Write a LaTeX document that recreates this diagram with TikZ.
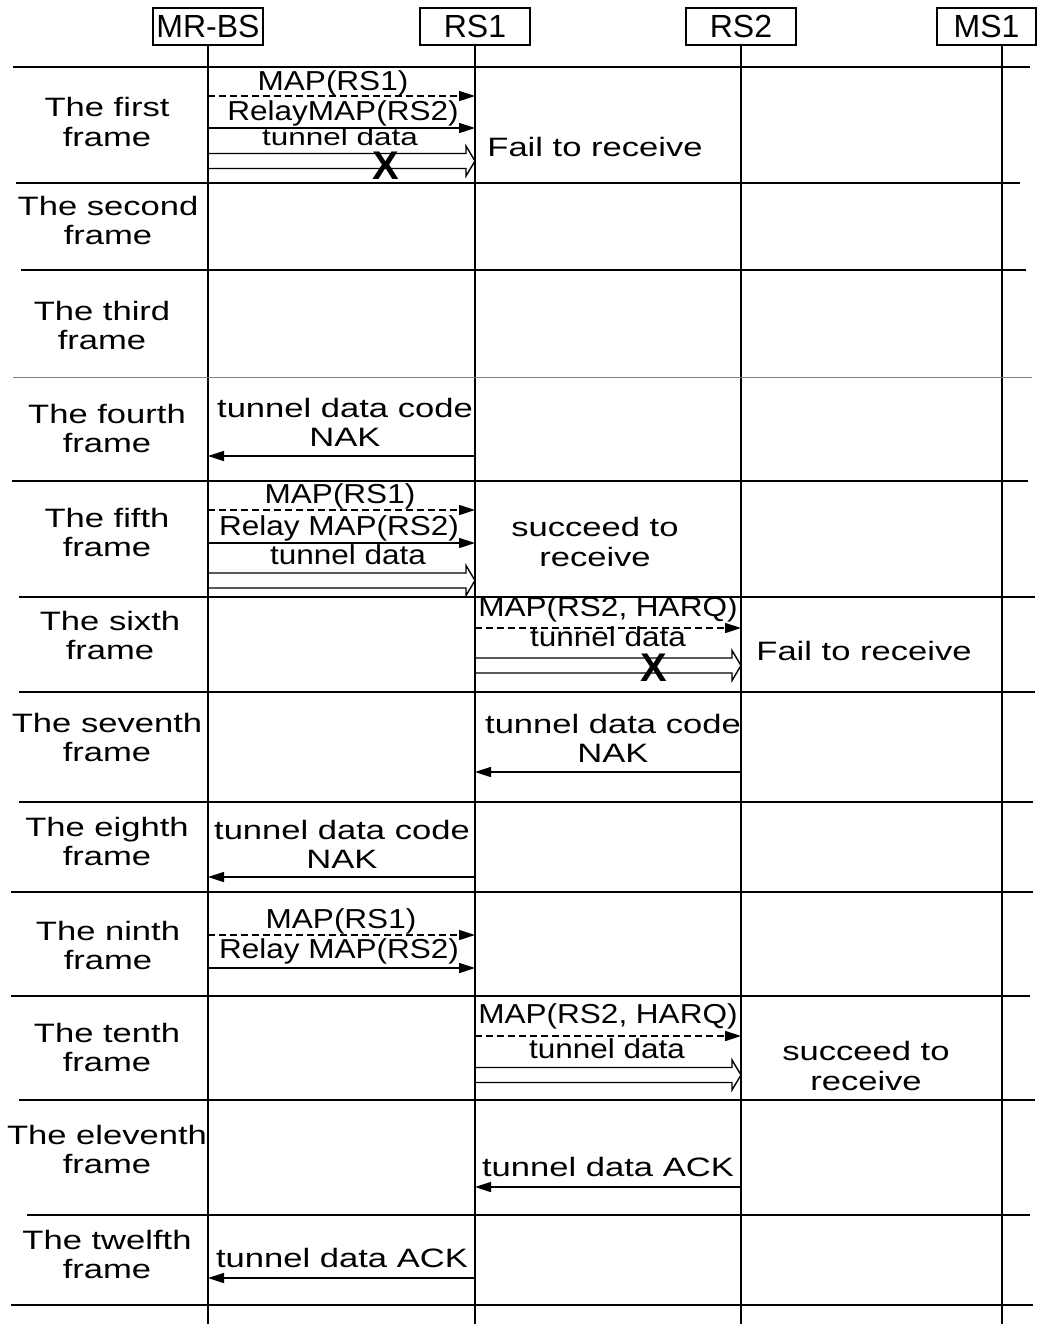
\documentclass[tikz,border=0pt]{standalone}
\usepackage{fontspec}
\setmainfont{Liberation Sans}[FakeStretch=1.3]
\newfontfamily\crossfont{Liberation Sans}
\newfontfamily\msgfont{Liberation Sans}[FakeStretch=1.15]
\usetikzlibrary{arrows.meta,calc}

\tikzset{
  ent/.style={draw, line width=0.75pt, minimum width=55pt, minimum height=18.5pt, inner sep=0pt, font=\crossfont\fontsize{16}{16}\selectfont},
  life/.style={line width=1pt},
  sep/.style={line width=0.8pt},
  frm/.style={align=center, inner sep=0pt, font=\fontsize{13.3}{14.6}\selectfont},
  lbl/.style={inner sep=0pt, font=\msgfont\fontsize{13.7}{14}\selectfont},
  lbls/.style={inner sep=0pt, font=\fontsize{12.1}{14}\selectfont},
  msg/.style={line width=0.8pt, -{Triangle[length=8pt,width=5pt]}},
  ctl/.style={msg, dash pattern=on 3.5pt off 2pt},
  tun/.style={line width=0.7pt, line join=miter},
  lost/.style={inner sep=0pt, font=\crossfont\bfseries\fontsize{20}{20}\selectfont},
}
% double arrow between two lifelines, #3 = y of the upper line
\newcommand{\tunnel}[3]{%
  \draw[tun] (#1 |- 0,#3) -- ($(#2 |- 0,#3)+(-9,0)$) -- ++(0,-7.5)
    -- ($(#2 |- 0,#3)+(0,7.5)$) -- ++(-9,15) -- ++(0,-7.5)
    -- ($(#1 |- 0,#3)+(0,15)$);}

\begin{document}
\begin{tikzpicture}[x=0.5pt,y=-0.5pt]
\useasboundingbox (0,0) rectangle (1038,1324);

% entities and lifelines
\node[ent] (bs) at (208,26.5) {MR-BS};
\node[ent] (rs1) at (475,26.5) {RS1};
\node[ent] (rs2) at (741,26.5) {RS2};
\node[ent, minimum width=49.5pt] (ms1) at (986.5,26.5) {MS1};
\coordinate (ms1l) at (1002,45);
\draw[life] (bs.south) -- (bs |- 0,1324);
\draw[life] (rs1.south) -- (rs1 |- 0,1324);
\draw[life] (rs2.south) -- (rs2 |- 0,1324);
\draw[life] (ms1l) -- (ms1l |- 0,1324);

% frame separators
\draw[sep] (13,67) -- (1030,67);
\draw[sep] (16,183) -- (1020,183);
\draw[sep] (21,270) -- (1026,270);
\draw[line width=0.4pt, gray] (13,377) -- (1032,377);
\draw[sep] (12,481) -- (1028,481);
\draw[sep] (19,597) -- (1035,597);
\draw[sep] (19,692) -- (1035,692);
\draw[sep] (19,802) -- (1033,802);
\draw[sep] (11,892) -- (1033,892);
\draw[sep] (11,996) -- (1030,996);
\draw[sep] (19,1100) -- (1035,1100);
\draw[sep] (27,1215) -- (1030,1215);
\draw[sep] (11,1305) -- (1033,1305);

% frame names
\node[frm] (f1) at (107,122) {The first\\frame};
\node[frm] (f2) at (108,220.5) {The second\\frame};
\node[frm] (f3) at (102,325.5) {The third\\frame};
\node[frm] (f4) at (107,428.5) {The fourth\\frame};
\node[frm] (f5) at (107,532.5) {The fifth\\frame};
\node[frm] (f6) at (110,635.5) {The sixth\\frame};
\node[frm] (f7) at (107,737.5) {The seventh\\frame};
\node[frm] (f8) at (107,841.5) {The eighth\\frame};
\node[frm] (f9) at (108,945.5) {The ninth\\frame};
\node[frm] (f10) at (107,1047.5) {The tenth\\frame};
\node[frm] (f11) at (107,1149.5) {The eleventh\\frame};
\node[frm] (f12) at (107,1254.5) {The twelfth\\frame};

% first frame
\node[lbl] (m1a) at (333,83) {MAP(RS1)};
\draw[ctl] (bs |- 0,96) -- (rs1 |- 0,96);
\node[lbl] (m1b) at (343,113.6) {RelayMAP(RS2)};
\draw[msg] (bs |- 0,128) -- (rs1 |- 0,128);
\node[lbls] (m1c) at (340,137.2) {tunnel data};
\tunnel{bs}{rs1}{153.5}
\node[lost] (x1) at (386,166) {X};
\node[frm] (r1) at (595,147) {Fail to receive};

% fourth frame
\node[frm] (m4) at (345,422.5) {tunnel data code\\NAK};
\draw[msg] (rs1 |- 0,456) -- (bs |- 0,456);

% fifth frame
\node[lbl] (m5a) at (340,496) {MAP(RS1)};
\draw[ctl] (bs |- 0,510) -- (rs1 |- 0,510);
\node[lbl] (m5b) at (339,528) {Relay MAP(RS2)};
\draw[msg] (bs |- 0,543) -- (rs1 |- 0,543);
\node[lbl] (m5c) at (348,555) {tunnel data};
\tunnel{bs}{rs1}{573}
\node[frm] (r5) at (595,542) {succeed to\\receive};

% sixth frame
\node[lbl] (m6a) at (608,609.6) {MAP(RS2, HARQ)};
\draw[ctl] (rs1 |- 0,628) -- (rs2 |- 0,628);
\node[lbl] (m6b) at (608,637) {tunnel data};
\tunnel{rs1}{rs2}{658}
\node[lost] (x6) at (654,668) {X};
\node[frm] (r6) at (864,651) {Fail to receive};

% seventh frame
\node[frm] (m7) at (613,738.5) {tunnel data code\\NAK};
\draw[msg] (rs2 |- 0,772) -- (rs1 |- 0,772);

% eighth frame
\node[frm] (m8) at (342,844.5) {tunnel data code\\NAK};
\draw[msg] (rs1 |- 0,877) -- (bs |- 0,877);

% ninth frame
\node[lbl] (m9a) at (341,921.2) {MAP(RS1)};
\draw[ctl] (bs |- 0,935) -- (rs1 |- 0,935);
\node[lbl] (m9b) at (339,951) {Relay MAP(RS2)};
\draw[msg] (bs |- 0,968) -- (rs1 |- 0,968);

% tenth frame
\node[lbl] (m10a) at (608,1016) {MAP(RS2, HARQ)};
\draw[ctl] (rs1 |- 0,1036) -- (rs2 |- 0,1036);
\node[lbl] (m10b) at (607,1049) {tunnel data};
\tunnel{rs1}{rs2}{1067.5}
\node[frm] (r10) at (866,1066) {succeed to\\receive};

% eleventh frame
\node[frm] (m11) at (608,1167) {tunnel data ACK};
\draw[msg] (rs2 |- 0,1187) -- (rs1 |- 0,1187);

% twelfth frame
\node[frm] (m12) at (342,1258) {tunnel data ACK};
\draw[msg] (rs1 |- 0,1278) -- (bs |- 0,1278);
\end{tikzpicture}
\end{document}
